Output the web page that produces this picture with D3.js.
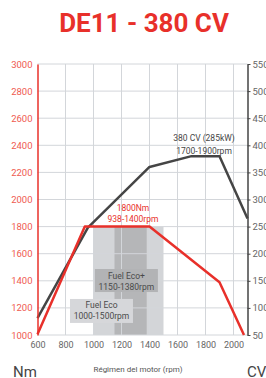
<!DOCTYPE html>
<html>
<head>
<meta charset="utf-8">
<script src="https://cdn.jsdelivr.net/npm/d3@7"></script>
<style>
  body { margin: 0; background: #fff; }
  text { font-family: Roboto, "Noto Sans", sans-serif; }
</style>
</head>
<body>
<div id="viz"></div>
<script>
var w = 266;
var h = 378;

// data
var torqueRpm = [600, 938, 1400, 1900, 2075];
var torqueNm = [1005, 1800, 1800, 1390, 1000];
var powerRpm = [600, 960, 1400, 1700, 1900, 2100];
var powerCv = [81, 248, 360, 380, 380, 265];
var nmTicks = [1000, 1200, 1400, 1600, 1800, 2000, 2200, 2400, 2600, 2800, 3000];
var cvTicks = [50, 100, 150, 200, 250, 300, 350, 400, 450, 500, 550];
var rpmTicks = [600, 800, 1000, 1200, 1400, 1600, 1800, 2000];
var bands = [
  { name: "Fuel Eco", from: 1000, to: 1500, top: 1800 },
  { name: "Fuel Eco+", from: 1150, to: 1380, top: 1800 }
];
var bandLabels = [
  { l1: "Fuel Eco+", l2: "1150-1380rpm", x0: 1010, x1: 1460, y0: 1487, y1: 1317 },
  { l1: "Fuel Eco", l2: "1000-1500rpm", x0: 832, x1: 1282, y0: 1266, y1: 1089 }
];

var red = "#e8302a";
var dark = "#454545";
var fmt = d3.format("d");

var x = d3.scaleLinear().domain([600, 2100]).range([37.5, 247.5]);
var yL = d3.scaleLinear().domain([1000, 3000]).range([335, 64]);
var yR = d3.scaleLinear().domain([50, 550]).range([335, 64]);

var svg = d3.select("#viz")
    .append("svg")
    .attr("width", w)
    .attr("height", h);

// title
svg.append("text")
    .attr("x", 144).attr("y", 32)
    .attr("text-anchor", "middle")
    .attr("font-size", 26).attr("font-weight", "bold")
    .attr("fill", red)
    .text("DE11 - 380 CV");

// fuel eco bands
svg.selectAll("rect.band")
    .data(bands)
    .enter()
    .append("rect")
    .attr("class", "band")
    .attr("x", function(d) { return x(d.from); })
    .attr("width", function(d) { return x(d.to) - x(d.from); })
    .attr("y", function(d) { return yL(d.top); })
    .attr("height", function(d) { return yL(1000) - yL(d.top); })
    .attr("fill", function(d, i) { return i === 0 ? "#d3d5d8" : "#b5b6b8"; });

// grid
svg.selectAll("line.hg")
    .data(nmTicks)
    .enter()
    .append("line")
    .attr("x1", x(600)).attr("x2", x(2100))
    .attr("y1", function(d) { return yL(d); })
    .attr("y2", function(d) { return yL(d); })
    .attr("stroke", "#d3d6da").attr("stroke-width", 1);

svg.selectAll("line.vg")
    .data(rpmTicks.slice(1))
    .enter()
    .append("line")
    .attr("x1", function(d) { return x(d); })
    .attr("x2", function(d) { return x(d); })
    .attr("y1", yL(3000)).attr("y2", yL(1000))
    .attr("stroke", "#d3d6da").attr("stroke-width", 1);

// band label boxes
var boxes = svg.selectAll("g.box")
    .data(bandLabels)
    .enter()
    .append("g");

boxes.append("rect")
    .attr("x", function(d) { return x(d.x0); })
    .attr("y", function(d) { return yL(d.y0); })
    .attr("width", function(d) { return x(d.x1) - x(d.x0); })
    .attr("height", function(d) { return yL(d.y1) - yL(d.y0); })
    .attr("fill", function(d, i) { return i === 0 ? "#b2b3b5" : "#d6d7da"; });

boxes.append("text")
    .attr("x", function(d) { return (x(d.x0) + x(d.x1)) / 2; })
    .attr("y", function(d) { return yL(d.y0) + 9.5; })
    .attr("text-anchor", "middle").attr("font-size", 8.5).attr("fill", "#4a4a4a")
    .text(function(d) { return d.l1; });

boxes.append("text")
    .attr("x", function(d) { return (x(d.x0) + x(d.x1)) / 2; })
    .attr("y", function(d) { return yL(d.y0) + 20.5; })
    .attr("text-anchor", "middle").attr("font-size", 8.5).attr("fill", "#4a4a4a")
    .text(function(d) { return d.l2; });

// curves
var torqueLine = d3.line()
    .x(function(d) { return x(d[0]); })
    .y(function(d) { return yL(d[1]); });
var powerLine = d3.line()
    .x(function(d) { return x(d[0]); })
    .y(function(d) { return yR(d[1]); });

svg.append("path")
    .attr("d", powerLine(d3.zip(powerRpm, powerCv)))
    .attr("fill", "none").attr("stroke", dark).attr("stroke-width", 2.5)
    .attr("stroke-linejoin", "round");

svg.append("path")
    .attr("d", torqueLine(d3.zip(torqueRpm, torqueNm)))
    .attr("fill", "none").attr("stroke", red).attr("stroke-width", 2.5)
    .attr("stroke-linejoin", "round");

// curve annotations
svg.append("text").attr("x", 133).attr("y", 211)
    .attr("text-anchor", "middle").attr("font-size", 8.5).attr("fill", red)
    .text("1800Nm");
svg.append("text").attr("x", 133).attr("y", 222)
    .attr("text-anchor", "middle").attr("font-size", 8.5).attr("fill", red)
    .text("938-1400rpm");
svg.append("text").attr("x", 204).attr("y", 141)
    .attr("text-anchor", "middle").attr("font-size", 8.5).attr("fill", dark)
    .text("380 CV (285kW)");
svg.append("text").attr("x", 204).attr("y", 154)
    .attr("text-anchor", "middle").attr("font-size", 8.5).attr("fill", dark)
    .text("1700-1900rpm");

// left axis
var left = svg.append("g")
    .attr("transform", "translate(" + x(600) + ",0)")
    .call(d3.axisLeft(yL).tickValues(nmTicks).tickFormat(fmt).tickSize(0).tickPadding(5));
left.select(".domain").attr("stroke", red).attr("stroke-width", 1.5);
left.selectAll("text").attr("fill", "#ef5a50").attr("font-size", 9.5)
    .style("font-family", "Roboto, sans-serif");

// right axis
var right = svg.append("g")
    .attr("transform", "translate(" + x(2100) + ",0)")
    .call(d3.axisRight(yR).tickValues(cvTicks).tickFormat(fmt).tickSize(3).tickSizeOuter(0).tickPadding(2));
right.select(".domain").attr("stroke", dark).attr("stroke-width", 1.5);
right.selectAll(".tick line").attr("stroke", dark);
right.selectAll("text").attr("fill", "#666").attr("font-size", 9.5)
    .style("font-family", "Roboto, sans-serif");

// bottom axis
var bottom = svg.append("g")
    .attr("transform", "translate(0," + yL(1000) + ")")
    .call(d3.axisBottom(x).tickValues(rpmTicks).tickFormat(fmt).tickSize(0).tickPadding(7));
bottom.select(".domain").remove();
bottom.selectAll("text").attr("fill", "#666").attr("font-size", 9)
    .style("font-family", "Roboto, sans-serif");

// units
svg.append("text").attr("x", 13).attr("y", 377)
    .attr("font-size", 15).attr("fill", dark).text("Nm");
svg.append("text").attr("x", 247).attr("y", 377)
    .attr("font-size", 15).attr("fill", dark).text("CV");
svg.append("text").attr("x", 138).attr("y", 372)
    .attr("text-anchor", "middle").attr("font-size", 8).attr("fill", "#555")
    .text("Régimen del motor (rpm)");
</script>
</body>
</html>
